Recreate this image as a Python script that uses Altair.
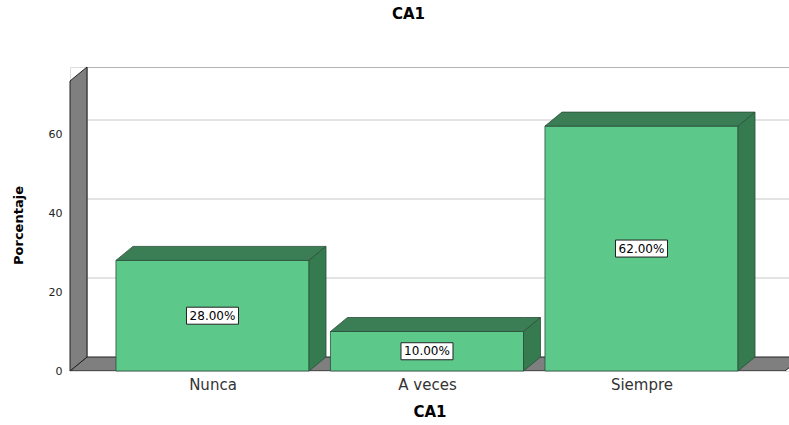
import json
import altair as alt
import pandas as pd

# ---- data ----
categories = ["Nunca", "A veces", "Siempre"]
percentages = [28.0, 10.0, 62.0]
y_ticks = [0, 20, 40, 60]
chart_title = "CA1"
x_title = "CA1"
y_title = "Porcentaje"

# ---- geometry (data units) ----
HALF = 0.45
DX = 17 / 214.5          # 3D depth in x units
DY = 14 / 3.95           # 3D depth in y units
XMIN = -0.6643
XMAX = XMIN + 719 / 214.5
YMAX = 304 / 3.95
FLOOR_END = XMIN + 715 / 214.5

FRONT = "#5cc98b"
TOP = "#3b7e56"
SIDE = "#367a4f"
EDGE = "#2b4f3a"
GRAYF = "#7f7f7f"
FONT = "DejaVu Sans"

bars = pd.DataFrame({"cat": categories, "i": range(len(categories)), "v": percentages})
bars["x0"] = bars.i - HALF
bars["x1"] = bars.i + HALF
bars["mid"] = bars.v / 2
bars["label"] = [f"{v:.2f}%" for v in percentages]

top_rows, side_rows = [], []
for r in bars.itertuples():
    top_rows += [
        dict(cat=r.cat, x=r.x0, lo=r.v, hi=r.v),
        dict(cat=r.cat, x=r.x0 + DX, lo=r.v, hi=r.v + DY),
        dict(cat=r.cat, x=r.x1, lo=r.v, hi=r.v + DY),
        dict(cat=r.cat, x=r.x1 + DX, lo=r.v + DY, hi=r.v + DY),
    ]
    side_rows += [
        dict(cat=r.cat, x=r.x1, lo=0.0, hi=r.v),
        dict(cat=r.cat, x=r.x1 + DX, lo=DY, hi=r.v + DY),
    ]
tops = pd.DataFrame(top_rows)
sides = pd.DataFrame(side_rows)

wall = pd.DataFrame([
    dict(g="w", x=XMIN, lo=0.0, hi=YMAX - DY),
    dict(g="w", x=XMIN + DX, lo=DY, hi=YMAX),
])
floor = pd.DataFrame([
    dict(g="f", x=XMIN, lo=0.0, hi=0.0),
    dict(g="f", x=XMIN + DX, lo=0.0, hi=DY),
    dict(g="f", x=FLOOR_END, lo=0.0, hi=DY),
    dict(g="f", x=FLOOR_END + DX, lo=DY, hi=DY),
])

grid_side = pd.DataFrame([dict(x=XMIN, x2=XMIN + DX, y=v, y2=v + DY) for v in y_ticks[1:]])
grid_back = pd.DataFrame([dict(x=XMIN + DX, x2=XMAX, y=v + DY, y2=v + DY) for v in y_ticks[1:]])

xscale = alt.Scale(domain=[XMIN, XMAX], nice=False, zero=False)
yscale = alt.Scale(domain=[0, YMAX], nice=False, zero=False)

label_expr = json.dumps(categories) + "[datum.value]"

x_axis = alt.Axis(values=list(range(len(categories))), labelExpr=label_expr, title=x_title,
                  grid=False, domain=False, ticks=False, labelPadding=6,
                  labelFont=FONT, labelFontSize=15, labelColor="#333333",
                  titleFont=FONT, titleFontSize=15, titleFontWeight="bold",
                  titleColor="#000000", titlePadding=12)
y_axis = alt.Axis(values=y_ticks, title=y_title, grid=False, domain=False, ticks=False,
                  labelPadding=8, labelFont=FONT, labelFontSize=11, labelColor="#222222",
                  titleFont=FONT, titleFontSize=13, titleFontWeight="bold", titleColor="#000000",
                  titleAngle=-90, titleX=-52, titleY=158, titleAlign="center", titleBaseline="middle")


def X(field):
    return alt.X(field, type="quantitative", scale=xscale, axis=x_axis)


def Y(field):
    return alt.Y(field, type="quantitative", scale=yscale, axis=y_axis)


back = alt.Chart(grid_back).mark_rule(color="#c8c8c8", strokeWidth=1, clip=True).encode(
    x=X("x"), x2="x2:Q", y=Y("y"), y2="y2:Q",
)
side_grid = alt.Chart(grid_side).mark_rule(color="#c8c8c8", strokeWidth=1).encode(
    x=X("x"), x2="x2:Q", y=Y("y"), y2="y2:Q",
)
outline_df = pd.DataFrame([
    dict(x=XMIN + DX, x2=XMIN + DX, y=DY, y2=YMAX),
    dict(x=XMIN + DX, x2=XMAX, y=YMAX, y2=YMAX),
])
outline = alt.Chart(outline_df).mark_rule(color="#888888", strokeWidth=1.2, clip=True).encode(
    x=X("x"), x2="x2:Q", y=Y("y"), y2="y2:Q",
)


def poly(df, fill, group, stroke="#222222", sw=1.0, clip=False):
    return alt.Chart(df).mark_area(fill=fill, stroke=stroke, strokeWidth=sw, opacity=1,
                                   interpolate="linear", clip=clip).encode(
        x=X("x"), y=Y("hi"), y2="lo:Q", detail=f"{group}:N",
    )


floor_l = poly(floor, GRAYF, "g", clip=True)
wall_l = poly(wall, GRAYF, "g")

front_l = alt.Chart(bars).mark_rect(fill=FRONT, stroke=EDGE, strokeWidth=0.8).encode(
    x=X("x0"), x2="x1:Q", y=Y("v"), y2=alt.datum(0),
)
top_l = poly(tops, TOP, "cat", stroke=EDGE, sw=0.8)
side_l = poly(sides, SIDE, "cat", stroke=EDGE, sw=0.8)

box_path = "M-1,-0.327L1,-0.327L1,0.327L-1,0.327Z"
boxes = alt.Chart(bars).mark_point(shape=box_path, size=52 * 52, filled=True, fill="white",
                                   stroke="#222222", strokeWidth=1, opacity=1).encode(
    x=X("i"), y=Y("mid"),
)
texts = alt.Chart(bars).mark_text(font=FONT, fontSize=12, color="#000000").encode(
    x=X("i"), y=Y("mid"), text="label:N",
)

chart = alt.layer(back, side_grid, outline, floor_l, wall_l, front_l, top_l, side_l, boxes, texts).properties(
    width=719,
    height=304,
    autosize=alt.AutoSizeParams(type="none"),
    padding={"left": 70, "top": 67, "right": 0, "bottom": 54},
    title=alt.Title(chart_title, font=FONT, fontSize=15, fontWeight="bold", color="#000000",
                    anchor="middle", dx=-21, offset=43),
).configure_view(stroke=None).configure(background="white")

chart.save("out.html", embed_options={"renderer": "svg", "actions": False})
